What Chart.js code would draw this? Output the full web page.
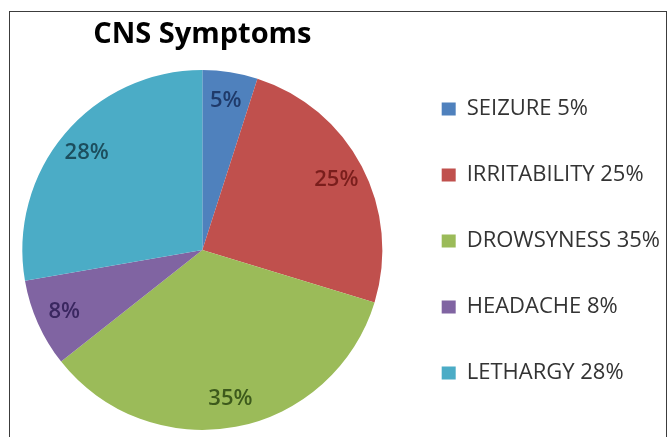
<!DOCTYPE html>
<html>
<head>
<meta charset="utf-8">
<script src="https://cdn.jsdelivr.net/npm/chart.js@4/dist/chart.umd.min.js"></script>
<style>
  html, body { margin: 0; padding: 0; background: #ffffff; }
  #wrap { position: relative; width: 671px; height: 437px; overflow: hidden; background: #fff; }
  #frame { position: absolute; left: 9px; top: 11px; width: 658px; height: 450px; border: 1px solid #3c3c3c; box-sizing: border-box; pointer-events: none; }
  canvas { position: absolute; left: 0; top: 0; }
</style>
</head>
<body>
<div id="wrap">
  <canvas id="c" width="671" height="437"></canvas>
  <div id="frame"></div>
</div>
<script>
const categories = ["SEIZURE", "IRRITABILITY", "DROWSYNESS", "HEADACHE", "LETHARGY"];
const values = [5, 25, 35, 8, 28];
const sliceColors = ["#4F81BD", "#C0504D", "#9BBB59", "#8064A2", "#4BACC6"];
const labelColors = ["#1F3A6A", "#7A1E1C", "#3D5A1C", "#3A2760", "#1C4E5E"];
const titleText = "CNS Symptoms";

const pctLabels = {
  id: 'pctLabels',
  afterDatasetsDraw(chart) {
    const ctx = chart.ctx;
    const meta = chart.getDatasetMeta(0);
    ctx.save();
    ctx.font = '600 22px "Open Sans", sans-serif';
    ctx.textAlign = 'center';
    ctx.textBaseline = 'middle';
    meta.data.forEach((arc, i) => {
      const p = arc.getProps(['x', 'y', 'startAngle', 'endAngle', 'outerRadius'], true);
      const mid = (p.startAngle + p.endAngle) / 2;
      const r = p.outerRadius * 0.84;
      ctx.fillStyle = labelColors[i];
      ctx.fillText(values[i] + '%', p.x + Math.cos(mid) * r, p.y + Math.sin(mid) * r);
    });
    ctx.restore();
  }
};

new Chart(document.getElementById('c'), {
  type: 'pie',
  data: {
    labels: categories.map((c, i) => c + ' ' + values[i] + '%'),
    datasets: [{
      data: values,
      backgroundColor: sliceColors,
      borderWidth: 0
    }]
  },
  options: {
    responsive: false,
    animation: false,
    layout: { padding: { top: 4, left: 7, right: 1, bottom: 7 } },
    plugins: {
      title: {
        display: true,
        text: titleText,
        fullSize: false,
        color: '#000000',
        font: { family: '"Open Sans", sans-serif', size: 29, weight: 'bold', lineHeight: 1.2 },
        padding: { top: 13, bottom: 18.2 }
      },
      legend: {
        position: 'right',
        align: 'start',
        title: { display: true, text: ' ', font: { size: 10, lineHeight: 1.2 }, padding: { top: 0, bottom: 38 } },
        labels: {
          color: '#333333',
          font: { family: '"Open Sans", sans-serif', size: 22 },
          boxWidth: 14,
          boxHeight: 13,
          padding: 44
        }
      },
      tooltip: { enabled: false }
    }
  },
  plugins: [pctLabels]
});
</script>
</body>
</html>
